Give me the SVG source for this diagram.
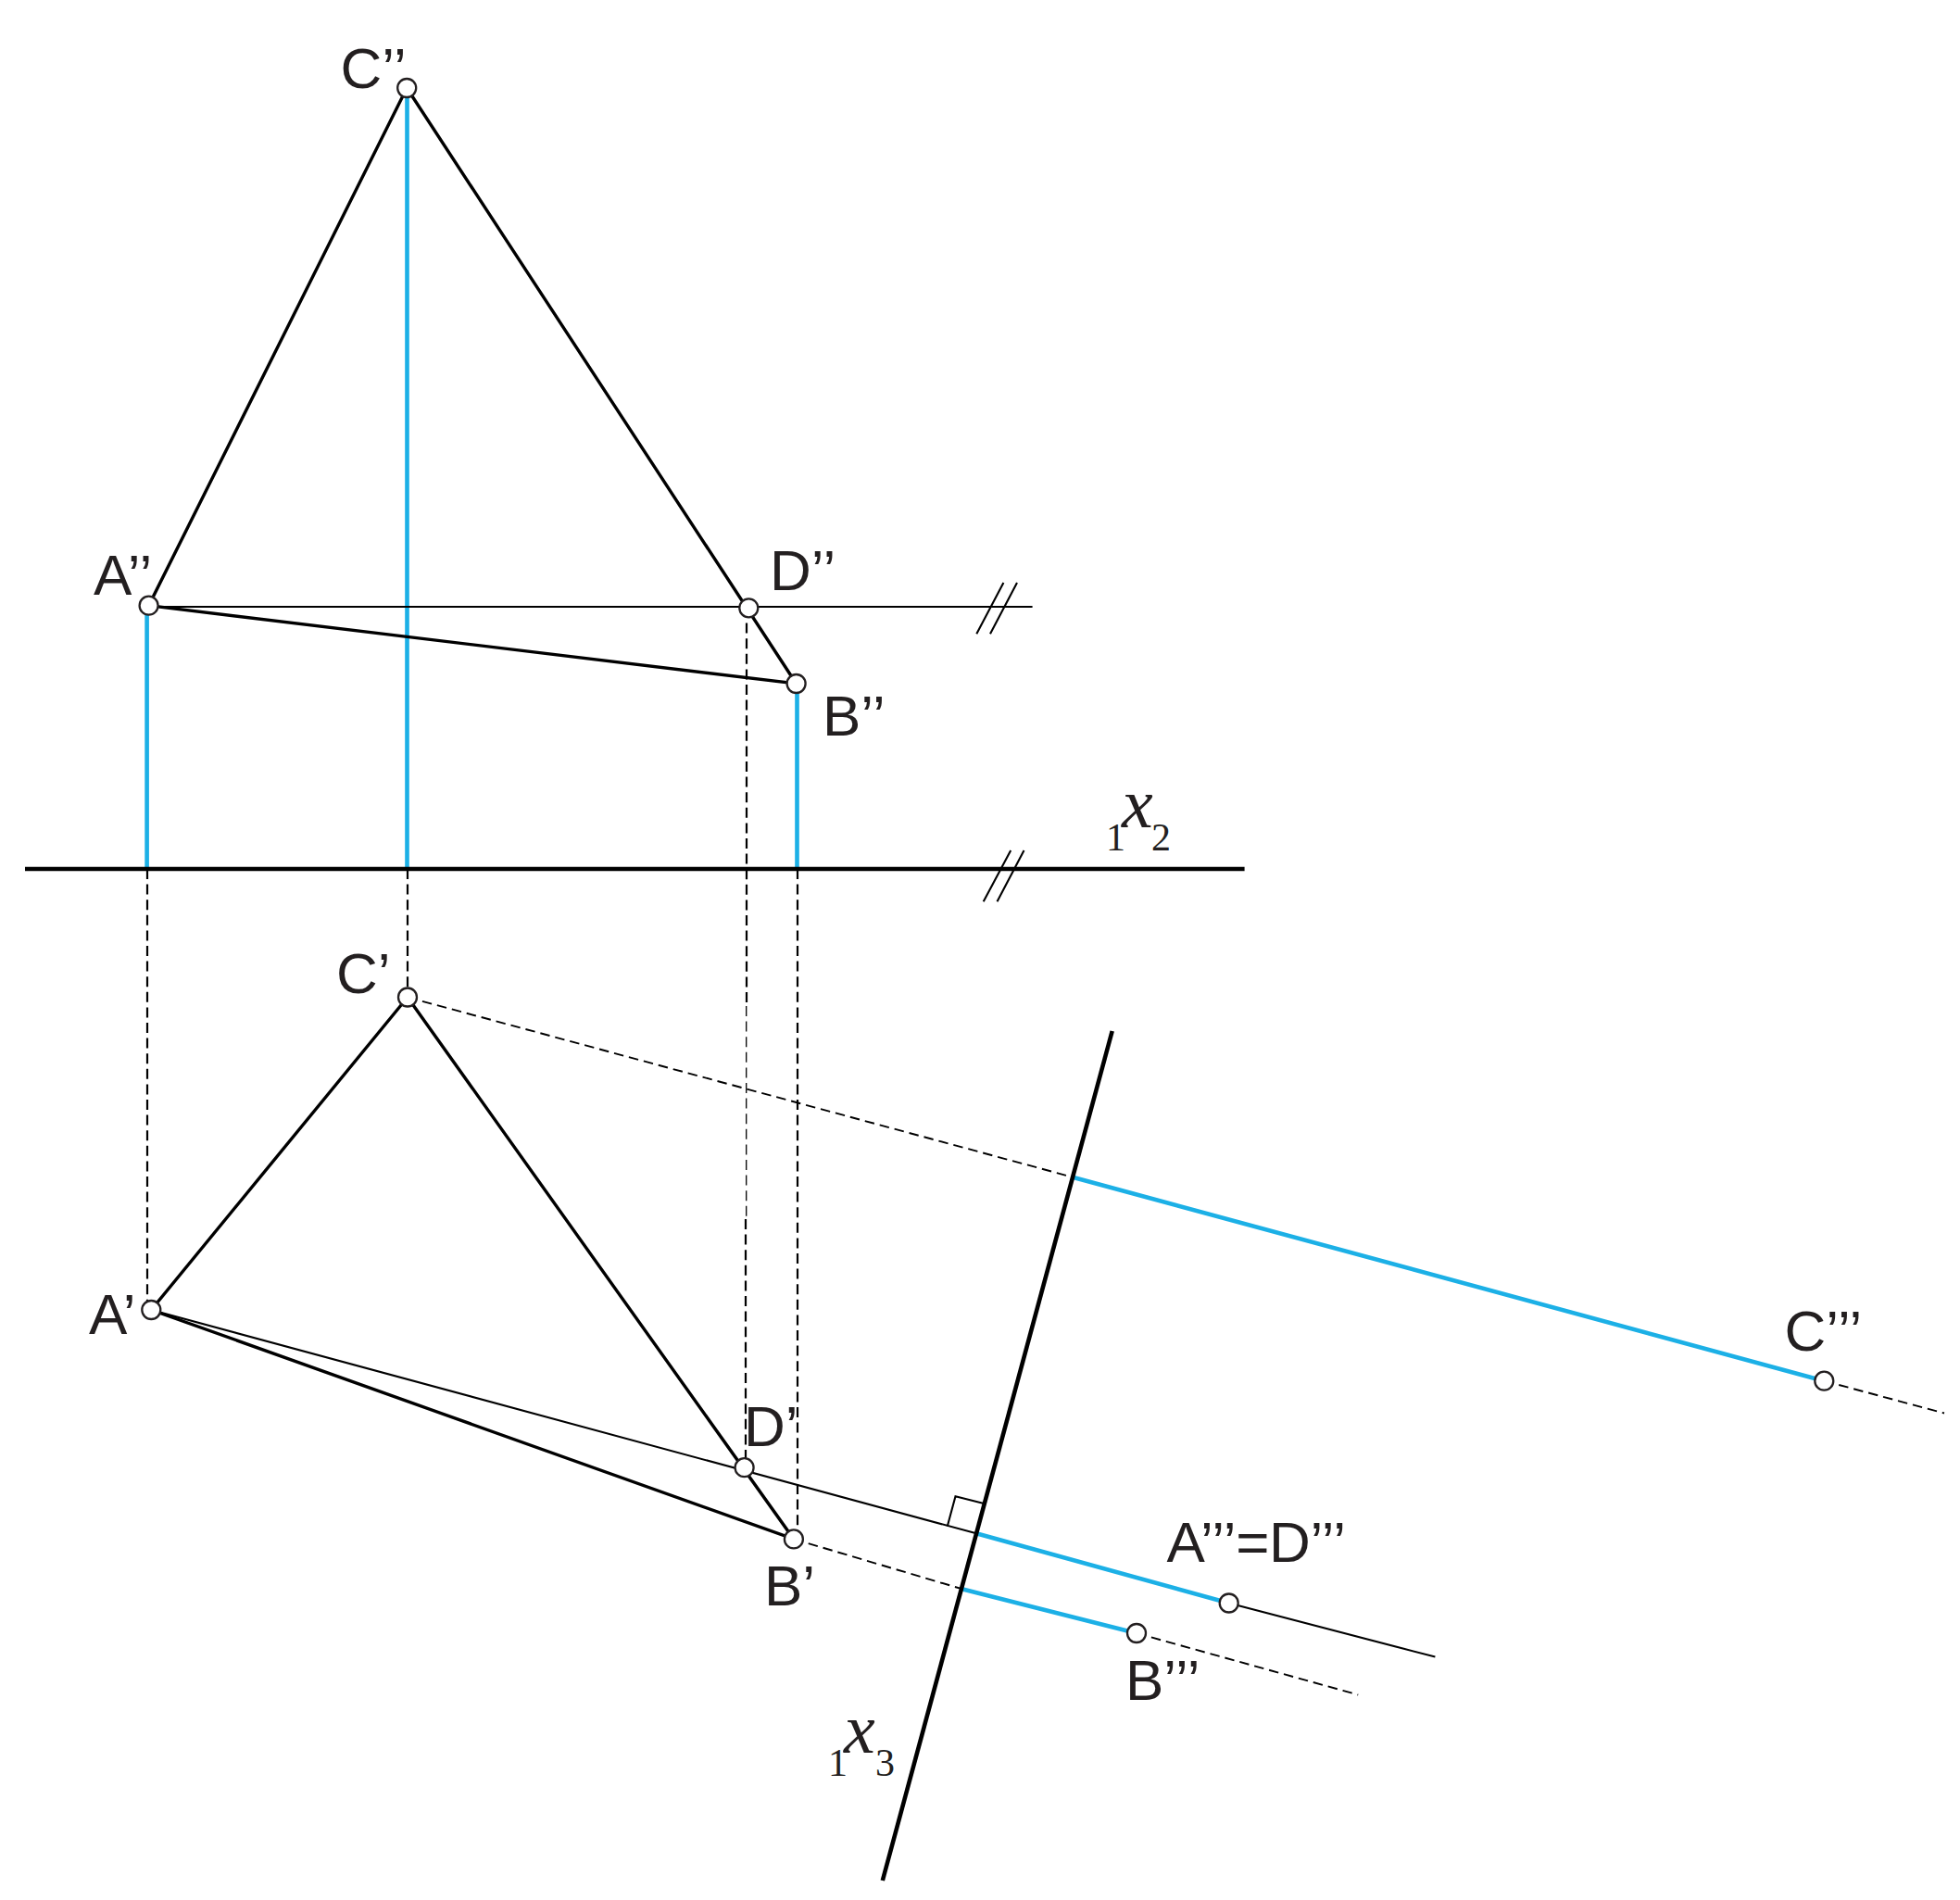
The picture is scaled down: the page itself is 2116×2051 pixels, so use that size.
<svg xmlns="http://www.w3.org/2000/svg" width="2116" height="2051" viewBox="0 0 2116 2051">
<style>
.k{fill:none;stroke:#000;stroke-width:3.4;stroke-linecap:round}
.ax{fill:none;stroke:#000;stroke-width:4.6}
.t{fill:none;stroke:#000;stroke-width:2.1}
.d{fill:none;stroke:#000;stroke-width:2.2;stroke-dasharray:11 5.6}
.f{fill:none;stroke:#000;stroke-width:1.3;stroke-dasharray:11 5.6}
.o{fill:none;stroke:#000;stroke-width:1.9;stroke-dasharray:10.5 6}
.b{fill:none;stroke:#1cb0e6;stroke-width:4.6}
.p{fill:#fff;stroke:#231f20;stroke-width:2.3}
.l{font-family:"Liberation Sans",Arial,sans-serif;font-size:62px;fill:#231f20}
.x{font-family:"Liberation Serif","Times New Roman",serif;font-size:42px;fill:#231f20}
.i{font-size:76px;font-style:italic}
</style>
<rect width="2116" height="2051" fill="#fff"/>
<g id="connectors">
<path class="b" d="M158.6 654V938M439.5 95V938M860.5 738V938"/>
<path class="b" d="M1158 1270.7L1969.3 1490.7M1054 1655.3L1326.7 1730.5M1038.4 1715.2L1227 1763"/>
<path class="d" d="M159 938V1414M440 938V1076.5M861 938V1661"/>
<path class="d" d="M806 656V1086"/>
<path class="f" d="M805.7 1086V1316"/>
<path class="d" d="M805 1316V1584"/>
<path class="o" d="M440 1076.5L1158 1270.7M1969.3 1490.7L2099 1525.5M856.9 1661.4L1038.4 1715.2M1227 1763L1466.2 1829.5"/>
<path class="t" d="M160.6 655H1114.6M163.3 1414L1054 1655.3M1326.7 1730.5L1549.4 1788.6"/>
<path class="t" d="M1054.3 684.3L1083.4 629M1069 684.3L1098 629M1061.7 973.3L1091.2 918M1076.5 973.3L1105.5 918"/>
<path class="t" d="M1022.8 1647.4L1031.5 1615.3L1061.2 1622.7"/>
<path class="k" d="M439.2 95L160.6 653.7L859.6 738L439.2 95"/>
<path class="k" d="M440 1076.5L163.3 1414L856.9 1661.4L440 1076.5"/>
<path class="ax" d="M27 938H1343.6"/>
<path class="ax" d="M1200.7 1113L952.8 2030"/>
</g>
<g id="node-C2"><circle class="p" cx="439.2" cy="95" r="10"/><text class="l" x="367.5" y="95">C’’</text></g>
<g id="node-A2"><circle class="p" cx="160.6" cy="653.7" r="10"/><text class="l" x="101" y="642">A’’</text></g>
<g id="node-D2"><circle class="p" cx="808.3" cy="656.3" r="10"/><text class="l" x="831" y="637">D’’</text></g>
<g id="node-B2"><circle class="p" cx="859.6" cy="738" r="10"/><text class="l" x="888" y="794">B’’</text></g>
<g id="node-C1"><circle class="p" cx="440" cy="1076.5" r="10"/><text class="l" x="363" y="1072">C’</text></g>
<g id="node-A1"><circle class="p" cx="163.3" cy="1414" r="10"/><text class="l" x="96" y="1440">A’</text></g>
<g id="node-D1"><circle class="p" cx="803.6" cy="1584.2" r="10"/><text class="l" x="803" y="1561">D’</text></g>
<g id="node-B1"><circle class="p" cx="856.9" cy="1661.4" r="10"/><text class="l" x="825" y="1733">B’</text></g>
<g id="node-C3"><circle class="p" cx="1969.3" cy="1490.7" r="10"/><text class="l" x="1926.5" y="1458">C’’’</text></g>
<g id="node-AD3"><circle class="p" cx="1326.7" cy="1730.5" r="10"/><text class="l" x="1259.5" y="1685.5" letter-spacing="-0.3">A’’’=D’’’</text></g>
<g id="node-B3"><circle class="p" cx="1227" cy="1763" r="10"/><text class="l" x="1215" y="1835">B’’’</text></g>
<g id="label-x2"><text class="x" x="1194" y="918">1<tspan class="i" x="1211" y="893">x</tspan><tspan x="1243" y="918">2</tspan></text></g>
<g id="label-x3"><text class="x" x="894" y="1916.5">1<tspan class="i" x="911" y="1891.5">x</tspan><tspan x="945" y="1916.5">3</tspan></text></g>
</svg>
